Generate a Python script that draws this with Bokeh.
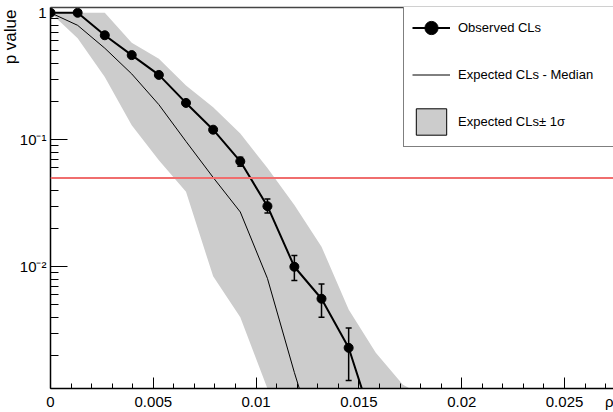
from bokeh.plotting import figure
from bokeh.models import (FixedTicker, CustomJSTickFormatter, Span, Legend,
                          LegendItem, ColumnDataSource, Title, LinearAxis)
from bokeh.embed import file_html
from bokeh.resources import INLINE

# ---------------- data ----------------
rho = [0.0, 0.00132, 0.00264, 0.00395, 0.00527, 0.00659, 0.00791, 0.00923,
       0.01055, 0.01186, 0.01318, 0.0145, 0.01582, 0.01714, 0.01845, 0.01977]

obs_cls = [1.0, 1.0, 0.665, 0.464, 0.324, 0.195, 0.12, 0.0676, 0.030, 0.0100,
           0.0056, 0.0023, 0.0005]
obs_hi = [1.0, 1.0, 0.668, 0.466, 0.326, 0.197, 0.122, 0.0728, 0.0342, 0.01225,
          0.0073, 0.0033, 0.0008]
obs_lo = [1.0, 1.0, 0.662, 0.462, 0.322, 0.193, 0.118, 0.0618, 0.0265, 0.0078,
          0.0040, 0.00127, 0.0003]

exp_median = [1.0, 0.796, 0.526, 0.33, 0.189, 0.097, 0.0505, 0.027, 0.0081,
              0.00147, 0.0003, 0.0001]

exp_hi = [1.0, 1.0, 1.0, 0.58, 0.434, 0.268, 0.18, 0.112, 0.06, 0.0306, 0.0144,
          0.0046, 0.0021, 0.00118, 0.0009, 0.0004]
exp_lo = [1.0, 0.63, 0.312, 0.13, 0.069, 0.039, 0.0084, 0.0040, 0.0011, 0.0004,
          0.0002, 0.0001, 0.0001, 0.0001, 0.0001, 0.0001]

cl_level = 0.05

x_ticks = [0.0, 0.005, 0.01, 0.015, 0.02, 0.025, 0.02736]
x_tick_labels = ["0", "0.005", "0.01", "0.015", "0.02", "0.025", "\u03c1"]
x_minor = [i / 1000 for i in range(0, 28)]
y_ticks = [0.01, 0.1, 1.0]
y_tick_labels = ["10\u207b\u00b2", "10\u207b\u00b9", "1"]
y_minor = [m * 10 ** e for e in (-3, -2, -1) for m in range(2, 10)]

legend_labels = ["Observed CLs", "Expected CLs - Median", "Expected CLs\u00b1 1\u03c3"]
y_title = "p value"

FONT = "Liberation Sans"
BAND = "#cccccc"

p = figure(width=613, height=412, y_axis_type="log",
           x_range=(0, 0.02738), y_range=(0.0011, 1.1),
           output_backend="svg", toolbar_location=None,
           min_border_left=50, min_border_right=0, min_border_top=7,
           min_border_bottom=21)
p.outline_line_color = None
p.grid.visible = False
p.background_fill_color = "white"
p.border_fill_color = "white"

# axes
fmt_code = """
for (let i = 0; i < vals.length; i++) {
  if (Math.abs(vals[i] - tick) <= 1e-9 * Math.max(Math.abs(vals[i]), 1e-12)) return labs[i];
}
return "";
"""
p.xaxis.ticker = FixedTicker(ticks=x_ticks, minor_ticks=x_minor)
p.xaxis.formatter = CustomJSTickFormatter(args=dict(vals=x_ticks, labs=x_tick_labels), code=fmt_code)
p.yaxis.ticker = FixedTicker(ticks=y_ticks, minor_ticks=y_minor)
p.yaxis.formatter = CustomJSTickFormatter(args=dict(vals=y_ticks, labs=y_tick_labels), code=fmt_code)

for ax in (p.xaxis, p.yaxis):
    ax.axis_line_color = "black"
    ax.axis_line_width = 1.5
    ax.major_tick_line_color = "black"
    ax.minor_tick_line_color = "black"
    ax.major_tick_out = 0
    ax.minor_tick_out = 0
    ax.major_label_text_font = FONT
    ax.major_label_text_font_size = "15px"
    ax.major_label_text_color = "black"
p.xaxis.major_tick_in = 11
p.xaxis.minor_tick_in = 5
p.xaxis.major_label_standoff = 4
p.yaxis.major_tick_in = 17
p.yaxis.minor_tick_in = 8
p.yaxis.major_label_standoff = 4

# frame top line
p.add_layout(LinearAxis(ticker=FixedTicker(ticks=[]), major_tick_line_color=None,
                        minor_tick_line_color=None, major_label_text_font_size="0px",
                        major_label_standoff=0, axis_line_color="#444444",
                        axis_line_width=1.5), "above")

# y title at the top end of the axis
p.add_layout(Title(text=y_title, align="right", text_font=FONT, text_font_size="17px",
                   text_font_style="normal", text_color="black", standoff=-6, offset=2),
             "left")

# expected band and median
r_band = p.varea(x=rho, y1=exp_lo, y2=exp_hi, fill_color=BAND)
r_band_leg = p.patch(x=rho + rho[::-1], y=exp_hi + exp_lo[::-1], fill_color=BAND,
                     line_color="black", line_width=1, visible=False)
r_med = p.line(x=rho[:len(exp_median)], y=exp_median, line_color="black", line_width=1)

# threshold line
p.add_layout(Span(location=cl_level, dimension="width", line_color="#f06e6e", line_width=2))

# observed with error bars
src = ColumnDataSource(dict(x=rho[:len(obs_cls)], y=obs_cls, lo=obs_lo, hi=obs_hi))
p.segment(x0="x", y0="lo", x1="x", y1="hi", source=src, line_color="black", line_width=1.5)
p.scatter(x="x", y="hi", source=src, marker="dash", size=6, line_color="black", line_width=1.5)
p.scatter(x="x", y="lo", source=src, marker="dash", size=6, line_color="black", line_width=1.5)
r_obs_line = p.line(x="x", y="y", source=src, line_color="black", line_width=2)
r_obs_pts = p.scatter(x="x", y="y", source=src, size=9, marker="circle",
                      fill_color="black", line_color="black")

legend = Legend(items=[
    LegendItem(label=legend_labels[0], renderers=[r_obs_line, r_obs_pts]),
    LegendItem(label=legend_labels[1], renderers=[r_med]),
    LegendItem(label=legend_labels[2], renderers=[r_band_leg]),
], location=(353, 241))
legend.border_line_color = "black"
legend.border_line_width = 1
legend.background_fill_color = "white"
legend.background_fill_alpha = 1
legend.padding = 8
legend.spacing = 14
legend.margin = 0
legend.glyph_width = 38
legend.glyph_height = 33
legend.label_height = 33
legend.label_width = 200
legend.label_standoff = 8
legend.label_text_font = FONT
legend.label_text_font_size = "13px"
legend.label_text_color = "black"
p.add_layout(legend)

open("out.html", "w").write(file_html(p, INLINE))
